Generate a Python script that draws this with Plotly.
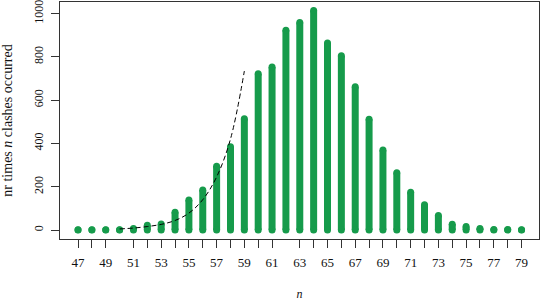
import plotly.graph_objects as go

# data
n_values = list(range(47, 80))
counts = [1, 1, 1, 1, 7, 22, 28, 82, 139, 185, 295, 385, 514, 722, 753, 922, 958,
          1014, 864, 805, 662, 511, 369, 265, 174, 117, 67, 27, 16, 7, 2, 2, 1]

curve_x = [50, 51, 52, 53, 54, 55, 56, 57, 58, 59]
curve_y = [5, 9, 16, 26, 44, 78, 140, 245, 420, 734]

tick_positions = [47, 48, 49, 51, 52, 53, 54, 55, 56, 57, 58, 59, 60, 61, 63, 64, 65,
                  66, 67, 68, 69, 70, 71, 72, 73, 74, 75, 76, 77, 78, 79]
tick_labels = [str(v) if v % 2 == 1 else "" for v in tick_positions]
y_ticks = [0, 200, 400, 600, 800, 1000]

GREEN = "#169b4b"
FONT = "Liberation Serif"

seg_x, seg_y = [], []
for xv, yv in zip(n_values, counts):
    seg_x += [xv, xv, None]
    seg_y += [0, yv, None]

fig = go.Figure()
fig.add_trace(go.Scatter(
    x=seg_x, y=seg_y, mode="lines+markers",
    line=dict(color=GREEN, width=7),
    marker=dict(color=GREEN, size=7, line=dict(width=0)),
    hoverinfo="skip", showlegend=False, cliponaxis=False,
))
fig.add_trace(go.Scatter(
    x=curve_x, y=curve_y, mode="lines",
    line=dict(color="black", width=1, dash="5px,3px", shape="spline"),
    showlegend=False,
))

fig.update_layout(
    width=540, height=301,
    margin=dict(l=60, r=1, t=2, b=62, autoexpand=False),
    paper_bgcolor="white", plot_bgcolor="white",
    font=dict(family=FONT, size=13, color="#111"),
)
fig.update_xaxes(
    range=[45.7, 80.26], tickmode="array", tickvals=tick_positions, ticktext=tick_labels,
    ticks="outside", ticklen=8, tickwidth=1, tickcolor="#333",
    showline=True, linecolor="#333", linewidth=1, mirror=True,
    showgrid=False, zeroline=False, ticklabelstandoff=3, automargin=False,
    title=dict(text="<i>n</i>", standoff=29, font=dict(size=12)),
    tickfont=dict(size=13),
)
fig.update_yaxes(
    range=[-41.5, 1053], tickmode="array", tickvals=y_ticks,
    ticks="outside", ticklen=8, tickwidth=1, tickcolor="#333", tickangle=-90,
    showline=True, linecolor="#333", linewidth=1, mirror=True,
    showgrid=False, zeroline=False, ticklabelstandoff=3, ticklabeloverflow="allow",
    automargin=False,
    title=dict(text="nr times <i>n</i> clashes occurred", standoff=20, font=dict(size=14)),
    tickfont=dict(size=12),
)

fig.write_html("out.html")
